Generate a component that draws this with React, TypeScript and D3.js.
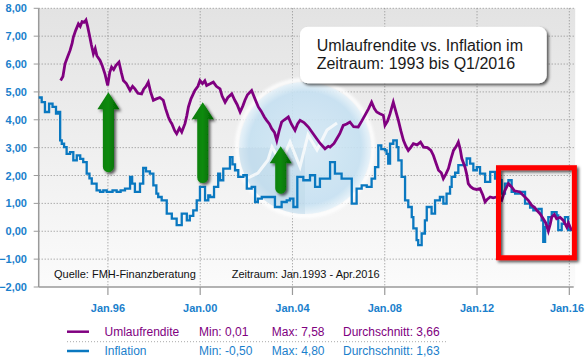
import React from 'react';
import * as d3 from 'd3';

const width = 585,
  height = 363;

const plot = { left: 38.7, right: 573.7, top: 8.3, bottom: 287 };

const FONT = '"Liberation Sans", Arial, sans-serif';
const PURPLE = '#800080';
const BLUE = '#0a78c0';
const LABEL_BLUE = '#1a80cc';

// [decimal year, percent]
const umlaufrendite: [number, number][] = [
  [1993.95, 5.41], [1994.05, 5.55], [1994.14, 6.01], [1994.25, 6.25], [1994.36, 6.49],
  [1994.45, 6.75], [1994.5, 6.96], [1994.6, 7.2], [1994.72, 7.44], [1994.8, 7.35],
  [1994.88, 7.52], [1994.98, 7.5], [1995.05, 7.58], [1995.12, 7.35], [1995.19, 7.08],
  [1995.28, 6.7], [1995.37, 6.37], [1995.45, 6.55], [1995.52, 6.3], [1995.66, 6.13],
  [1995.75, 5.95], [1995.87, 5.65], [1995.99, 5.23], [1996.08, 5.7], [1996.16, 5.89],
  [1996.25, 5.8], [1996.35, 5.95], [1996.48, 6.07], [1996.58, 5.7], [1996.67, 5.41],
  [1996.8, 5.3], [1996.96, 5.05], [1997.07, 5.2], [1997.17, 5.11], [1997.3, 4.95],
  [1997.46, 4.93], [1997.55, 5.1], [1997.65, 5.2], [1997.75, 5.35], [1997.85, 5.0],
  [1997.97, 4.7], [1998.1, 4.75], [1998.25, 4.8], [1998.4, 4.7], [1998.5, 4.4],
  [1998.62, 4.1], [1998.7, 3.95], [1998.77, 3.86], [1998.9, 3.6], [1998.98, 3.5],
  [1999.1, 3.7], [1999.2, 3.56], [1999.34, 3.86], [1999.42, 4.15], [1999.49, 4.46],
  [1999.6, 4.75], [1999.77, 5.05], [1999.9, 5.2], [1999.99, 5.41], [2000.1, 5.3],
  [2000.2, 5.4], [2000.28, 5.23], [2000.43, 5.29], [2000.57, 5.35], [2000.7, 5.2],
  [2000.86, 5.11], [2000.95, 4.85], [2001.08, 4.63], [2001.2, 4.8], [2001.37, 4.93],
  [2001.5, 4.7], [2001.6, 4.55], [2001.73, 4.28], [2001.85, 4.5], [2001.94, 4.7],
  [2002.05, 4.9], [2002.23, 5.05], [2002.35, 4.8], [2002.52, 4.46], [2002.65, 4.3],
  [2002.78, 4.1], [2002.88, 3.98], [2003.0, 3.85], [2003.1, 3.68], [2003.22, 3.55],
  [2003.32, 3.26], [2003.42, 3.6], [2003.53, 3.92], [2003.65, 4.0], [2003.82, 4.1],
  [2003.95, 3.85], [2004.11, 3.62], [2004.22, 3.85], [2004.33, 3.98], [2004.5, 3.9],
  [2004.69, 3.74], [2004.85, 3.55], [2005.05, 3.32], [2005.2, 3.15], [2005.41, 2.96],
  [2005.55, 3.05], [2005.63, 3.02], [2005.8, 3.15], [2005.92, 3.32], [2006.05, 3.5],
  [2006.2, 3.8], [2006.35, 3.85], [2006.49, 3.92], [2006.65, 3.75], [2006.85, 3.74],
  [2007.0, 3.95], [2007.14, 4.16], [2007.3, 4.4], [2007.43, 4.63], [2007.55, 4.4],
  [2007.65, 4.28], [2007.79, 4.22], [2007.94, 4.16], [2008.01, 3.8], [2008.12, 3.95],
  [2008.23, 4.22], [2008.37, 4.63], [2008.48, 4.3], [2008.59, 3.98], [2008.7, 3.6],
  [2008.81, 3.26], [2008.92, 3.05], [2009.02, 2.9], [2009.12, 3.0], [2009.24, 3.14],
  [2009.4, 3.1], [2009.55, 3.2], [2009.68, 3.02], [2009.85, 3.0], [2010.0, 2.9],
  [2010.11, 2.72], [2010.22, 2.45], [2010.33, 2.19], [2010.45, 2.1], [2010.54, 1.89],
  [2010.65, 2.05], [2010.76, 2.25], [2010.87, 2.6], [2010.98, 2.9], [2011.1, 3.05],
  [2011.19, 3.2], [2011.27, 2.95], [2011.34, 2.61], [2011.48, 2.3], [2011.55, 2.05],
  [2011.62, 1.71], [2011.72, 1.6], [2011.84, 1.53], [2011.98, 1.5], [2012.13, 1.53],
  [2012.25, 1.3], [2012.35, 1.05], [2012.45, 1.15], [2012.57, 1.23], [2012.7, 1.2],
  [2012.86, 1.23], [2013.0, 1.15], [2013.07, 1.11], [2013.2, 1.45], [2013.36, 1.71],
  [2013.5, 1.59], [2013.62, 1.45], [2013.86, 1.41], [2014.0, 1.29], [2014.22, 1.11],
  [2014.37, 0.93], [2014.5, 0.85], [2014.59, 0.75], [2014.73, 0.63], [2014.87, 0.45],
  [2014.98, 0.3], [2015.09, 0.01], [2015.17, 0.25], [2015.24, 0.51], [2015.35, 0.6],
  [2015.45, 0.45], [2015.6, 0.5], [2015.74, 0.39], [2015.89, 0.15], [2015.96, 0.3],
  [2016.06, 0.1], [2016.13, 0.04],
];

const inflation: [number, number][] = [
  [1993.0, 4.8], [1993.13, 4.63], [1993.27, 4.28], [1993.45, 4.58], [1993.6, 4.46],
  [1993.75, 4.22], [1993.85, 4.28], [1993.93, 3.26], [1994.0, 3.14], [1994.1, 3.02],
  [1994.21, 2.78], [1994.36, 2.84], [1994.5, 2.54], [1994.65, 2.72], [1994.8, 2.6],
  [1994.93, 2.48], [1995.08, 2.07], [1995.2, 1.9], [1995.3, 1.71], [1995.51, 1.47],
  [1995.66, 1.41], [1995.8, 1.47], [1995.95, 1.41], [1996.2, 1.47], [1996.38, 1.41],
  [1996.55, 1.47], [1996.74, 1.53], [1996.96, 1.95], [1997.05, 1.71], [1997.17, 1.41],
  [1997.39, 1.71], [1997.53, 2.27], [1997.65, 2.15], [1997.82, 2.07], [1997.97, 1.65],
  [1998.1, 1.35], [1998.18, 1.23], [1998.33, 1.11], [1998.55, 0.63], [1998.77, 0.45],
  [1998.98, 0.22], [1999.2, 0.63], [1999.42, 0.39], [1999.55, 0.55], [1999.7, 0.75],
  [1999.85, 1.11], [1999.99, 1.59], [2000.21, 1.11], [2000.35, 1.29], [2000.43, 1.23],
  [2000.6, 1.59], [2000.78, 2.07], [2000.86, 1.83], [2001.0, 2.25], [2001.29, 2.66],
  [2001.4, 2.4], [2001.51, 2.19], [2001.65, 1.95], [2001.87, 2.01], [2002.02, 1.53],
  [2002.23, 1.59], [2002.38, 1.05], [2002.5, 1.17], [2002.67, 1.23], [2003.03, 1.23],
  [2003.24, 0.87], [2003.53, 1.05], [2003.75, 1.11], [2003.89, 1.17], [2004.04, 0.87],
  [2004.21, 1.95], [2004.47, 1.83], [2004.76, 2.01], [2004.98, 1.59], [2005.19, 1.89],
  [2005.48, 1.89], [2005.63, 2.48], [2005.84, 2.07], [2006.13, 1.89], [2006.35, 1.89],
  [2006.57, 0.99], [2006.78, 1.53], [2007.0, 1.65], [2007.22, 1.59], [2007.43, 1.89],
  [2007.58, 2.3], [2007.72, 3.08], [2007.85, 2.95], [2008.01, 2.9], [2008.08, 2.78],
  [2008.15, 2.43], [2008.23, 3.14], [2008.37, 3.26], [2008.52, 3.02], [2008.59, 2.54],
  [2008.73, 1.95], [2008.88, 1.11], [2009.02, 0.87], [2009.17, 0.51], [2009.24, 0.1],
  [2009.38, -0.32], [2009.45, -0.5], [2009.6, -0.08], [2009.74, 0.39], [2009.82, 0.87],
  [2010.03, 0.63], [2010.18, 1.11], [2010.39, 1.23], [2010.54, 0.99], [2010.68, 1.35],
  [2010.83, 1.59], [2010.9, 1.95], [2011.05, 2.1], [2011.19, 2.37], [2011.41, 2.37],
  [2011.55, 2.61], [2011.7, 2.43], [2011.84, 2.19], [2011.99, 2.3], [2012.13, 2.07],
  [2012.35, 1.77], [2012.57, 2.13], [2012.78, 1.89], [2013.0, 1.83], [2013.07, 1.35],
  [2013.21, 1.71], [2013.36, 1.83], [2013.5, 1.41], [2013.65, 1.35], [2013.86, 1.41],
  [2014.08, 0.99], [2014.3, 0.85], [2014.44, 0.75], [2014.66, 0.8], [2014.8, 0.39],
  [2014.87, -0.38], [2014.95, 0.15], [2015.09, 0.51], [2015.24, 0.69], [2015.45, 0.57],
  [2015.52, 0.04], [2015.67, 0.27], [2015.81, 0.51], [2015.95, 0.04], [2016.13, 0.04],
];

const yTicks = [8, 7, 6, 5, 4, 3, 2, 1, 0, -1, -2];
const xTickYears = [1996, 2000, 2004, 2008, 2012, 2016];
const xTickLabels = ['Jan.96', 'Jan.00', 'Jan.04', 'Jan.08', 'Jan.12', 'Jan.16'];

const legendNames = ['Umlaufrendite', 'Inflation'];
const legendColors = [PURPLE, LABEL_BLUE];
const legendLineColors = [PURPLE, BLUE];
const legendMin = ['0,01', '-0,50'];
const legendMax = ['7,58', '4,80'];
const legendAvg = ['3,66', '1,63'];

// annotation arrows: tip and foot in data units
const arrows = [
  { year: 1996.02, top: 4.99, foot: 2.12 },
  { year: 2000.11, top: 4.63, foot: 1.73 },
  { year: 2003.49, top: 3.05, foot: 1.35 },
];

const fmt = (v: number) => d3.format('.2f')(v).replace('.', ',');

export default function App() {
  const x = d3.scaleLinear().domain([1993, 2016.19]).range([plot.left, plot.right]);
  const y = d3.scaleLinear().domain([8, -2]).range([plot.top, plot.bottom]);

  const purpleLine = d3
    .line<[number, number]>()
    .x((d) => x(d[0]))
    .y((d) => y(d[1]));
  const blueLine = d3
    .line<[number, number]>()
    .x((d) => x(d[0]))
    .y((d) => y(d[1]))
    .curve(d3.curveStepAfter);

  const wmCx = 305,
    wmCy = 148,
    wmR = 66;

  return (
    <div style={{ position: 'absolute', left: 0, top: 0 }}>
      <svg width={width} height={height} style={{ display: 'block', fontFamily: FONT }}>
        <defs>
          <linearGradient id="bg" x1="0" y1="0" x2="0" y2="1">
            <stop offset="0" stopColor="#e3e3e3" />
            <stop offset="1" stopColor="#fbfbfb" />
          </linearGradient>
          <radialGradient id="wm" cx="0.5" cy="0.5" r="0.5">
            <stop offset="0" stopColor="#d6eaf6" />
            <stop offset="0.85" stopColor="#c6e1f2" />
            <stop offset="1" stopColor="#e8f3fa" />
          </radialGradient>
          <linearGradient id="arrowFill" x1="0" y1="0" x2="1" y2="0">
            <stop offset="0" stopColor="#0f7a0f" />
            <stop offset="0.5" stopColor="#0a8a0a" />
            <stop offset="1" stopColor="#036003" />
          </linearGradient>
          <clipPath id="wmClip">
            <circle cx={wmCx} cy={wmCy} r={wmR} />
          </clipPath>
          <filter id="shadow" x="-30%" y="-30%" width="160%" height="160%">
            <feDropShadow dx="2" dy="2" stdDeviation="1.6" floodColor="#000" floodOpacity="0.65" />
          </filter>
          <filter id="blur" x="-20%" y="-20%" width="140%" height="140%">
            <feGaussianBlur stdDeviation="1.5" />
          </filter>
        </defs>

        <rect
          x={plot.left}
          y={plot.top}
          width={plot.right - plot.left + 1.5}
          height={plot.bottom - plot.top}
          fill="url(#bg)"
        />

        {/* grid */}
        {yTicks.slice(0, -1).map((t) => (
          <line
            key={'gy' + t}
            x1={plot.left}
            x2={plot.right}
            y1={y(t)}
            y2={y(t)}
            stroke="#8c8c8c"
            strokeDasharray="1,2"
          />
        ))}
        {xTickYears.map((t) => (
          <line
            key={'gx' + t}
            x1={x(t)}
            x2={x(t)}
            y1={plot.top}
            y2={plot.bottom}
            stroke="#8c8c8c"
            strokeDasharray="1,2"
          />
        ))}

        {/* watermark */}
        <g opacity={0.9}>
          <circle cx={wmCx} cy={wmCy} r={wmR + 2} fill="none" stroke="#ffffff" strokeWidth={4} filter="url(#blur)" />
          <circle cx={wmCx} cy={wmCy} r={wmR} fill="url(#wm)" />
          <rect x={wmCx - 70} y={wmCy} width={70} height={70} fill="#b9d4e6" opacity={0.45} clipPath="url(#wmClip)" />
          <polyline
            points="248,178 258,173 268,160 272,147 281,163 290,142 300,167 308,135 317,150 327,130 337,123"
            fill="none"
            stroke="#ffffff"
            strokeWidth={3}
            opacity={0.8}
            clipPath="url(#wmClip)"
          />
        </g>

        {/* axes */}
        <line x1={plot.left} x2={plot.left} y1={plot.top} y2={plot.bottom} stroke="#9a9a9a" strokeWidth={1.5} />
        <line x1={plot.left} x2={plot.right} y1={plot.bottom} y2={plot.bottom} stroke="#9a9a9a" strokeWidth={1.5} />
        {yTicks.map((t) => (
          <g key={'ty' + t}>
            <line x1={plot.left - 5} x2={plot.left} y1={y(t)} y2={y(t)} stroke="#9a9a9a" />
            <text
              x={27}
              y={y(t) + 4}
              textAnchor="end"
              fontSize={11}
              fontWeight="bold"
              fill={LABEL_BLUE}
            >
              {fmt(t)}
            </text>
          </g>
        ))}
        {xTickYears.map((t, i) => (
          <g key={'tx' + t}>
            <line x1={x(t)} x2={x(t)} y1={plot.bottom} y2={plot.bottom + 8} stroke="#9a9a9a" strokeWidth={1.2} />
            <text
              x={Math.min(x(t), width - 18)}
              y={311.5}
              textAnchor="middle"
              fontSize={11}
              fontWeight="bold"
              fill={LABEL_BLUE}
            >
              {xTickLabels[i]}
            </text>
          </g>
        ))}

        {/* series */}
        <path d={blueLine(inflation) || ''} fill="none" stroke={BLUE} strokeWidth={2.3} />
        <path d={purpleLine(umlaufrendite) || ''} fill="none" stroke={PURPLE} strokeWidth={2.8} strokeLinejoin="miter" />

        {/* arrows */}
        {arrows.map((a, i) => {
          const cx = x(a.year);
          const tip = y(a.top);
          const foot = y(a.foot);
          const headH = 17;
          const headW = 11;
          const shaftW = 5.5;
          const d = [
            `M${cx},${tip}`,
            `L${cx + headW},${tip + headH}`,
            `L${cx + shaftW},${tip + headH}`,
            `L${cx + shaftW},${foot - shaftW}`,
            `A${shaftW},${shaftW} 0 0 1 ${cx - shaftW},${foot - shaftW}`,
            `L${cx - shaftW},${tip + headH}`,
            `L${cx - headW},${tip + headH}`,
            'Z',
          ].join(' ');
          return <path key={'ar' + i} d={d} fill="url(#arrowFill)" filter="url(#shadow)" />;
        })}

        {/* highlight box */}
        <rect
          x={x(2012.93)}
          y={y(2.28)}
          width={x(2016.22) - x(2012.93)}
          height={y(-0.95) - y(2.28)}
          fill="none"
          stroke="#ff0000"
          strokeWidth={5}
          filter="url(#shadow)"
        />

        {/* title box */}
        <rect x={300} y={26.7} width={246.7} height={56.6} rx={8} fill="#ffffff" filter="url(#shadow)" />
        <text x={316.7} y={51} fontSize={16} fill="#1a1a1a">
          Umlaufrendite vs. Inflation im
        </text>
        <text x={316.7} y={69} fontSize={16} fill="#1a1a1a">
          Zeitraum: 1993 bis Q1/2016
        </text>

        <text x={54} y={278} fontSize={11} fill="#111">
          Quelle: FMH-Finanzberatung
        </text>
        <text x={231.7} y={278} fontSize={11} fill="#111">
          Zeitraum: Jan.1993 - Apr.2016
        </text>

        {/* legend */}
        {legendNames.map((name, i) => {
          const ly = i === 0 ? 331.7 : 351;
          return (
            <g key={'lg' + name} fontSize={12} fill={legendColors[i]}>
              <line x1={67} x2={89} y1={ly} y2={ly} stroke={legendLineColors[i]} strokeWidth={2.5} />
              <text x={104.5} y={ly + 4.3}>{name}</text>
              <text x={199} y={ly + 4.3}>Min: {legendMin[i]}</text>
              <text x={271.8} y={ly + 4.3}>Max: {legendMax[i]}</text>
              <text x={343} y={ly + 4.3}>Durchschnitt: {legendAvg[i]}</text>
            </g>
          );
        })}
        <line x1={67} x2={446} y1={341.7} y2={341.7} stroke="#aaaaaa" strokeDasharray="1,2" />
      </svg>
    </div>
  );
}
